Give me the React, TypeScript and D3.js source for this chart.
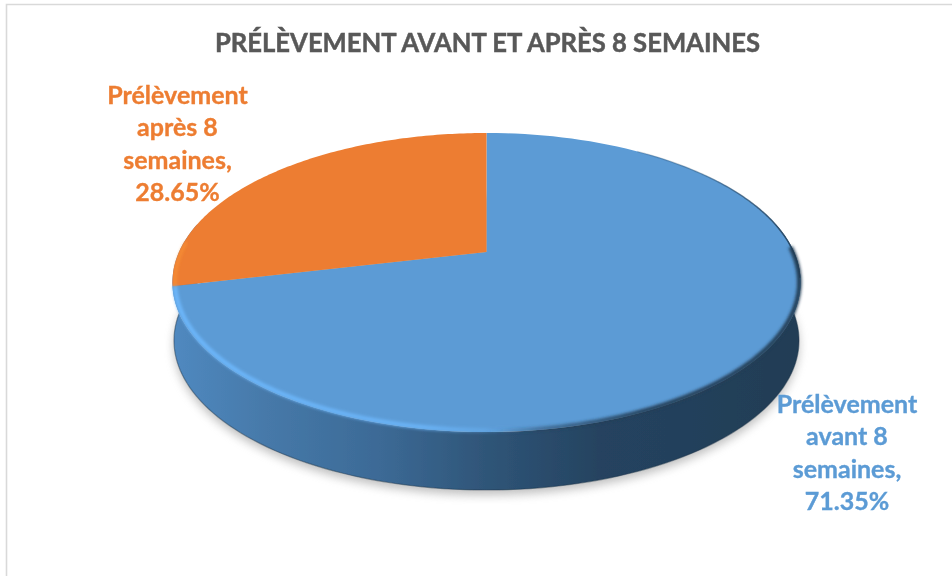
import React from "react";
import * as d3 from "d3";

const title = "PRÉLÈVEMENT AVANT ET APRÈS 8 SEMAINES";
const categories = ["Prélèvement avant 8 semaines", "Prélèvement après 8 semaines"];
const values = [71.35, 28.65];
const sliceColors = ["#5b9bd5", "#ed7d31"];
const blueLabel = ["Prélèvement", "avant 8", "semaines,", "71.35%"];
const orangeLabel = ["Prélèvement", "après 8", "semaines,", "28.65%"];

const W = 952, H = 576;
const cx = 486.5, apexY = 252, c = 307.5, b = 143.3, k = 0.204;
const depth = 58, shrink = 0.995;

type P = [number, number];
const project = (a: number, r = 1): P => {
  const x = r * Math.sin(a), y = -r * Math.cos(a);
  const w = 1 - k * y;
  return [cx + (c * x) / w, apexY + (b * y) / w];
};
const projectBottom = (a: number): P => {
  const [x, y] = project(a);
  return [cx + (x - cx) * shrink, y + depth];
};
const samples = (a0: number, a1: number, f: (a: number) => P, n = 120): P[] =>
  d3.range(n + 1).map((i) => f(a0 + ((a1 - a0) * i) / n));

const line = d3.line<P>().curve(d3.curveLinear);
const pie = d3.pie<number>().sort(null)(values);
const rad = (deg: number) => (deg * Math.PI) / 180;

const frontL = 2 * Math.PI - Math.acos(k);
const frontR = Math.acos(k);
const slicePath = (s0: number, s1: number) =>
  line([[cx, apexY], ...samples(s0, s1, (a) => project(a)), [cx, apexY]]) + "Z";
const wallPath =
  line([
    ...samples(frontR, frontL, (a) => project(a)),
    ...samples(frontL, frontR, projectBottom),
  ]) + "Z";
const bottomEllipse = line(samples(0, 2 * Math.PI, projectBottom)) + "Z";
const topEllipse = line(samples(0, 2 * Math.PI, (a) => project(a))) + "Z";
const bottomEdge = line(samples(frontL - 0.1, frontR + 0.1, projectBottom)) || "";
const lightRim = line(samples(rad(165), pie[0].endAngle, (a) => project(a, 0.992))) || "";
const darkRim = line(samples(rad(88), rad(185), (a) => project(a, 0.996))) || "";
const backEdge = line(samples(rad(35), rad(100), (a) => project(a, 0.998))) || "";
const orangeRim = line(samples(pie[1].startAngle, pie[1].startAngle + 0.3, (a) => project(a, 0.992))) || "";

const wallStops: [number, string][] = [
  [0, "#5089c0"], [0.15, "#4679a9"], [0.33, "#3c6a96"], [0.5, "#2f5578"], [0.68, "#254360"], [1, "#223d55"],
];
const lightStops: [number, number][] = [[0, 1], [0.4, 0.85], [0.5, 0.35], [0.58, 0]];
const darkStops: [number, number][] = [[0.5, 0], [0.6, 0.5], [0.75, 0.95], [1, 1]];
const backStops: [number, number][] = [[0.6, 0], [0.85, 0.35], [1, 0.9]];

const labelStyle = { fontFamily: "Lato, Carlito, sans-serif", fontWeight: 700 } as const;

const Label = ({ lines, x, y, fill }: { lines: string[]; x: number; y: number; fill: string }) => (
  <text x={x} y={y} textAnchor="middle" fill={fill} stroke={fill} strokeWidth={0.35} fontSize={25} style={labelStyle}>
    {lines.map((t, i) => (
      <tspan key={t} x={x} y={y + i * 32.4}>{t}</tspan>
    ))}
  </text>
);

export default function App() {
  return (
    <svg width={W} height={H} viewBox={`0 0 ${W} ${H}`} style={{ position: "absolute", left: 0, top: 0, background: "#fff" }}>
      <defs>
        <linearGradient id="wall" gradientUnits="userSpaceOnUse" x1={172} x2={800} y1={0} y2={0}>
          {wallStops.map(([o, col]) => <stop key={o} offset={o} stopColor={col} />)}
        </linearGradient>
        <linearGradient id="light" gradientUnits="userSpaceOnUse" x1={172} x2={800} y1={0} y2={0}>
          {lightStops.map(([o, op]) => <stop key={o} offset={o} stopColor="#6cb6fa" stopOpacity={op} />)}
        </linearGradient>
        <linearGradient id="dark" gradientUnits="userSpaceOnUse" x1={172} x2={800} y1={0} y2={0}>
          {darkStops.map(([o, op]) => <stop key={o} offset={o} stopColor="#223d55" stopOpacity={op} />)}
        </linearGradient>
        <linearGradient id="back" gradientUnits="userSpaceOnUse" x1={172} x2={800} y1={0} y2={0}>
          {backStops.map(([o, op]) => <stop key={o} offset={o} stopColor="#223d55" stopOpacity={op} />)}
        </linearGradient>
        <filter id="blurShadow" x="-10%" y="-10%" width="120%" height="120%"><feGaussianBlur stdDeviation={5} /></filter>
        <filter id="blurRim" x="-10%" y="-10%" width="120%" height="120%"><feGaussianBlur stdDeviation={1.8} /></filter>
        <filter id="blurThin" x="-10%" y="-10%" width="120%" height="120%"><feGaussianBlur stdDeviation={0.6} /></filter>
        <filter id="soft" x="-5%" y="-5%" width="110%" height="110%"><feGaussianBlur stdDeviation={0.45} /></filter>
      </defs>

      <path d={`M6.5,${H}V4.5H${W}`} fill="none" stroke="#d9d9d9" strokeWidth={1.6} />

      <text x={487.5} y={51.5} textAnchor="middle" fill="#595959" stroke="#595959" strokeWidth={0.5} fontSize={27} textLength={545} lengthAdjust="spacingAndGlyphs" style={labelStyle} filter="url(#soft)">
        {title}
      </text>

      <path d={bottomEllipse} fill="#8c8c8c" opacity={0.55} transform="translate(0,5)" filter="url(#blurShadow)" />
      <path d={wallPath} fill="url(#wall)" filter="url(#soft)" />
      <path d={bottomEdge} fill="none" stroke="#1c3347" strokeOpacity={0.45} strokeWidth={1.2} filter="url(#blurThin)" />
      <g filter="url(#soft)">
        {pie.map((s, i) => (
          <path key={categories[i]} d={slicePath(s.startAngle, s.endAngle)} fill={sliceColors[i]} />
        ))}
      </g>
      <path d={darkRim} fill="none" stroke="url(#dark)" strokeWidth={4.5} filter="url(#blurRim)" />
      <path d={backEdge} fill="none" stroke="url(#back)" strokeWidth={1.5} filter="url(#blurThin)" />
      <path d={lightRim} fill="none" stroke="url(#light)" strokeWidth={4.5} filter="url(#blurRim)" />
      <path d={orangeRim} fill="none" stroke="#f78f35" strokeWidth={2.5} filter="url(#blurRim)" />

      <g filter="url(#soft)">
        <Label lines={orangeLabel} x={177.5} y={104} fill={sliceColors[1]} />
        <Label lines={blueLabel} x={847} y={413} fill={sliceColors[0]} />
      </g>
    </svg>
  );
}
